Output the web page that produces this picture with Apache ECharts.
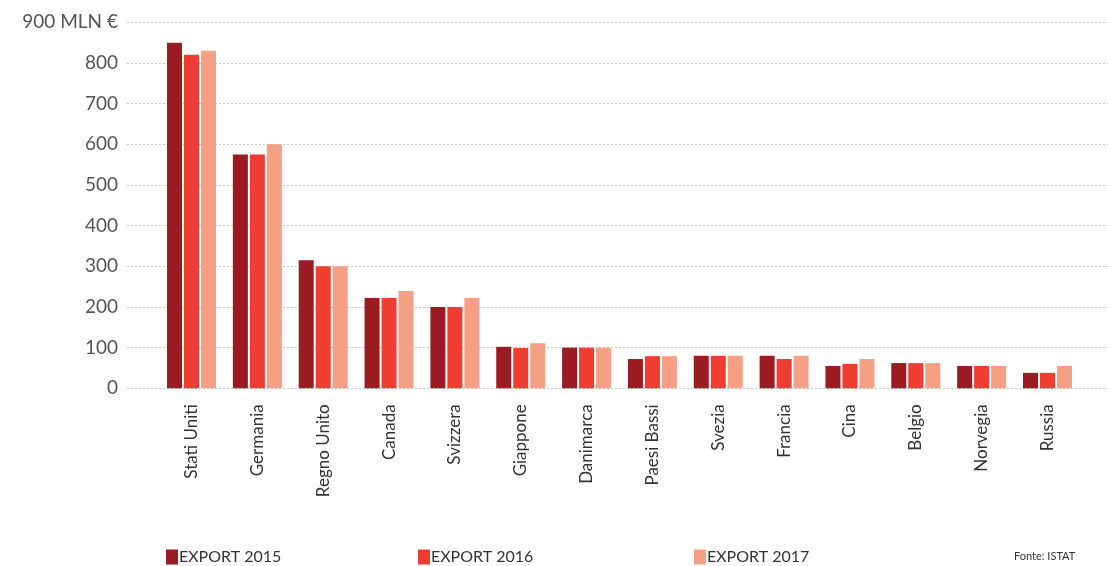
<!DOCTYPE html>
<html>
<head>
<meta charset="utf-8">
<script src="https://cdn.jsdelivr.net/npm/echarts@6/dist/echarts.min.js"></script>
<style>html,body{margin:0;padding:0;background:#fff}#c{width:1108px;height:566px}</style>
</head>
<body>
<div id="c"></div>
<script>
const categories = ['Stati Uniti','Germania','Regno Unito','Canada','Svizzera','Giappone','Danimarca','Paesi Bassi','Svezia','Francia','Cina','Belgio','Norvegia','Russia'];
const export2015 = [850, 575, 315, 222, 200, 102, 100, 72, 80, 80, 55, 62, 55, 38];
const export2016 = [820, 575, 300, 222, 200, 99, 100, 79, 80, 72, 60, 62, 55, 38];
const export2017 = [830, 600, 300, 239, 222, 111, 100, 79, 80, 80, 72, 62, 55, 55];
const seriesNames = ['EXPORT 2015','EXPORT 2016','EXPORT 2017'];
const yTicks = [0,100,200,300,400,500,600,700,800,900];

const FONT = 'Lato';
const colors = ['#9a1b21','#ef3e31','#f5a085'];
const chart = echarts.init(document.getElementById('c'));
const TOP = 22.3, H = 366;
const legendLefts = [166, 418, 694];
chart.setOption({
  animation: false,
  textStyle: {fontFamily: FONT},
  grid: [
    {left: 127, right: 0, top: TOP, height: H},
    {left: 158.6, right: 27.6, top: TOP, height: H}
  ],
  xAxis: [
    {gridIndex: 0, type: 'value', show: false},
    {gridIndex: 1, type: 'category', data: categories,
     axisLine: {show: false}, axisTick: {show: false},
     axisLabel: {rotate: 90, fontSize: 17, color: '#333', margin: 16, fontFamily: FONT}}
  ],
  yAxis: [
    {gridIndex: 0, type: 'value', min: 0, max: 900, interval: 100,
     axisLine: {show: false}, axisTick: {show: false},
     splitLine: {lineStyle: {color: '#c4c4c4', type: [2, 2], width: 1}},
     axisLabel: {fontSize: 19, color: '#555', margin: 9, fontFamily: FONT,
       formatter: v => yTicks.includes(v) ? (v === 900 ? '900 MLN €' : String(v)) : ''}},
    {gridIndex: 1, type: 'value', min: 0, max: 900, show: false}
  ],
  legend: seriesNames.map((n, i) => ({
    data: [n], left: legendLefts[i], top: 549, padding: 0, icon: 'rect',
    itemWidth: 12, itemHeight: 15, itemGap: 0,
    textStyle: {fontSize: 16, color: '#333', fontFamily: FONT, padding: [0, 0, 0, -4]}
  })),
  graphic: [{type: 'text', left: 1014, top: 551,
    style: {text: 'Fonte: ISTAT', fontSize: 11, fill: '#333', fontFamily: FONT}}],
  series: [export2015, export2016, export2017].map((d, i) => ({
    name: seriesNames[i], type: 'bar', xAxisIndex: 1, yAxisIndex: 1,
    data: d, barWidth: 15, barGap: '13.3%',
    itemStyle: {color: colors[i]}
  }))
});
</script>
</body>
</html>
